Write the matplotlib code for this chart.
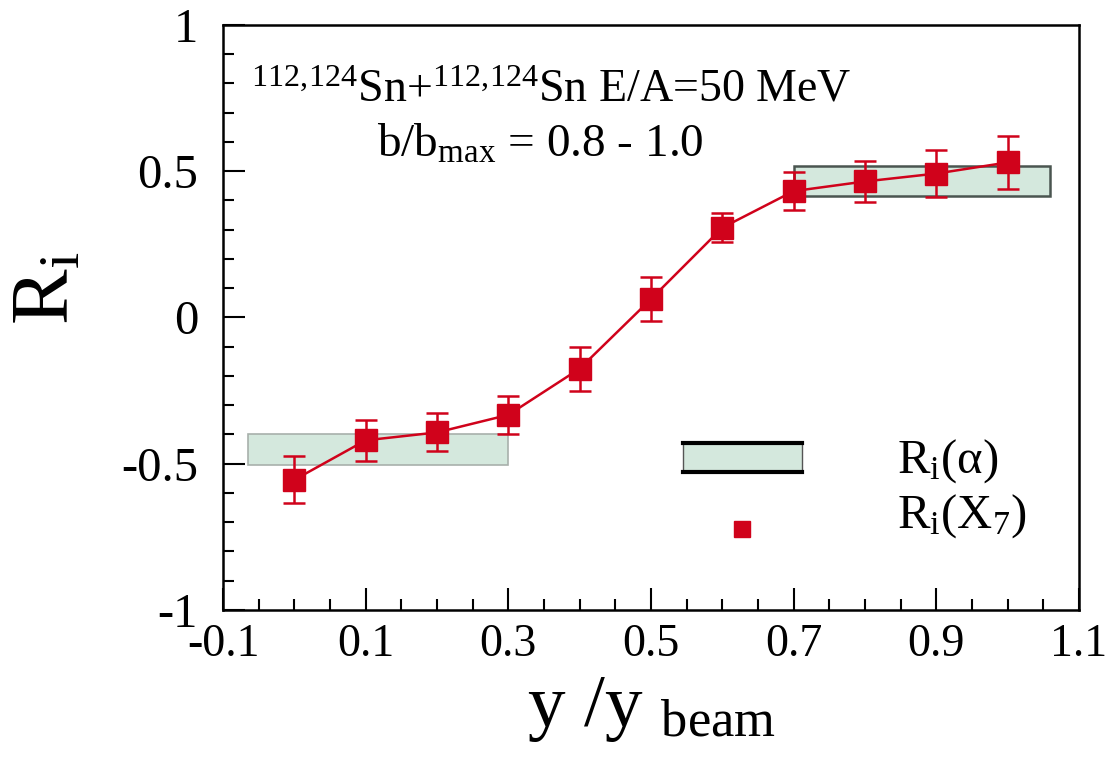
import numpy as np
import matplotlib
matplotlib.use("Agg")
import matplotlib.pyplot as plt
from matplotlib.patches import Rectangle

plt.rcParams['font.family'] = ['Liberation Serif', 'DejaVu Serif']
plt.rcParams['mathtext.fontset'] = 'custom'
plt.rcParams['mathtext.rm'] = 'Liberation Serif'
plt.rcParams['mathtext.it'] = 'Liberation Serif:italic'

# R_i(X7) data points
y_rap = [0.0, 0.1, 0.2, 0.3, 0.4, 0.5, 0.6, 0.7, 0.8, 0.9, 1.0]
ri_x7 = [-0.555, -0.42, -0.393, -0.333, -0.175, 0.063, 0.307, 0.432, 0.465, 0.492, 0.530]
ri_err = [0.08, 0.07, 0.065, 0.065, 0.075, 0.075, 0.05, 0.065, 0.07, 0.08, 0.09]

# R_i(alpha) bands: (x0, x1, ylo, yhi)
band_low = (-0.065, 0.3, -0.505, -0.40)
band_high = (0.70, 1.06, 0.415, 0.518)

xtick_vals = [-0.1, 0.1, 0.3, 0.5, 0.7, 0.9, 1.1]
xtick_labels = ['-0.1', '0.1', '0.3', '0.5', '0.7', '0.9', '1.1']
ytick_vals = [-1, -0.5, 0, 0.5, 1]
ytick_labels = ['-1', '-0.5', '0', '0.5', '1']

red = '#d0021b'
mint = '#d4e8dd'

fig = plt.figure(figsize=(11.08, 7.66), dpi=100)
ax = fig.add_axes([0.2013, 0.2037, 0.7725, 0.7637])

# bands
x0, x1, lo, hi = band_low
ax.add_patch(Rectangle((x0, lo), x1 - x0, hi - lo, facecolor=mint,
                       edgecolor='#a8b0ab', lw=1.2, zorder=1))
x0, x1, lo, hi = band_high
ax.add_patch(Rectangle((x0, lo), x1 - x0, hi - lo, facecolor=mint,
                       edgecolor='#4a5550', lw=1.8, zorder=1))

ax.errorbar(y_rap, ri_x7, yerr=ri_err, color=red, marker='s', ms=16,
            lw=1.8, elinewidth=1.8, capsize=8, capthick=1.8, zorder=3)

# legend drawn by hand
lx0, lx1, llo, lhi = 0.545, 0.711, -0.53, -0.43
ax.add_patch(Rectangle((lx0, llo), lx1 - lx0, lhi - llo, facecolor=mint,
                       edgecolor='#555555', lw=1, zorder=2))
ax.plot([lx0, lx1], [lhi, lhi], color='black', lw=3, zorder=3)
ax.plot([lx0, lx1], [llo, llo], color='black', lw=3, zorder=3)
ax.plot([0.628], [-0.723], 's', color=red, ms=11, zorder=3)
ax.text(0.845, -0.53, r'R$_\mathrm{i}$(α)', fontsize=35, va='baseline')
ax.text(0.845, -0.72, r'R$_\mathrm{i}$(X$_7$)', fontsize=35, va='baseline')

ax.text(0.36, 0.737, r'$^{112,\!124}$Sn+$^{112,\!124}$Sn E/A=50 MeV',
        fontsize=33, ha='center', va='baseline')
ax.text(0.345, 0.549, r'b/b$_\mathrm{max}$ = 0.8 - 1.0',
        fontsize=34, ha='center', va='baseline')

ax.set_xlim(-0.1, 1.1)
ax.set_ylim(-1, 1)
ax.set_xticks(xtick_vals)
ax.set_xticklabels(xtick_labels)
ax.set_xticks(np.arange(-0.1, 1.1, 0.05), minor=True)
ax.set_yticks(ytick_vals)
ax.set_yticklabels(ytick_labels)
ax.set_yticks(np.arange(-1, 1.0, 0.1), minor=True)
ax.tick_params(which='both', direction='in', top=False, right=False, width=1.5)
ax.tick_params(axis='x', which='major', labelsize=33, length=16, pad=10)
ax.tick_params(axis='y', which='major', labelsize=35, length=16, pad=18)
ax.tick_params(which='minor', length=8)
for s in ax.spines.values():
    s.set_linewidth(1.8)

ax.set_ylabel(r'R$_\mathrm{i}$', fontsize=60, va='center')
ax.yaxis.set_label_coords(-0.205, 0.55)
ax.set_xlabel(r'y /y $_\mathrm{beam}$', fontsize=54, labelpad=6)

fig.savefig('out.png', dpi=100)
